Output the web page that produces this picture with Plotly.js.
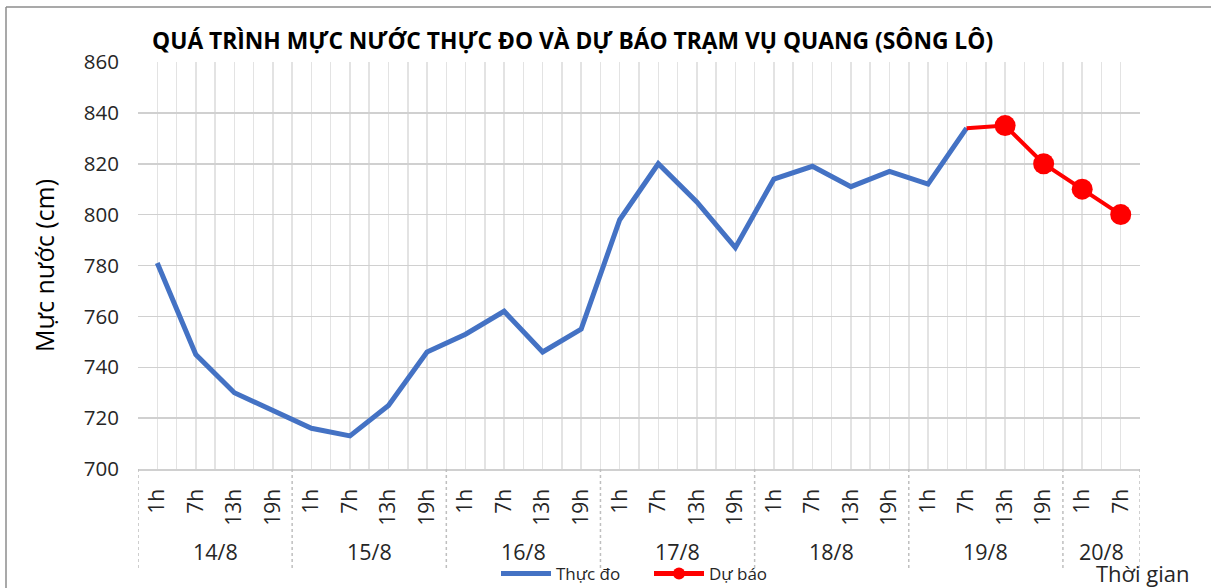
<!DOCTYPE html>
<html>
<head>
<meta charset="utf-8">
<script src="https://cdn.plot.ly/plotly-3.0.1.min.js"></script>
<style>html,body{margin:0;padding:0;background:#fff;}#chart{width:1211px;height:588px;}</style>
</head>
<body>
<div id="chart"></div>
<script>
// ---- data ----
const days = ['14/8','14/8','14/8','14/8','15/8','15/8','15/8','15/8','16/8','16/8','16/8','16/8',
              '17/8','17/8','17/8','17/8','18/8','18/8','18/8','18/8','19/8','19/8','19/8','19/8','20/8','20/8'];
const hours = ['1h','7h','13h','19h','1h','7h','13h','19h','1h','7h','13h','19h',
               '1h','7h','13h','19h','1h','7h','13h','19h','1h','7h','13h','19h','1h','7h'];
const observed = [781,745,730,723,716,713,725,746,753,762,746,755,
                  798,820,805,787,814,819,811,817,812,834,null,null,null,null];
const forecast = [null,null,null,null,null,null,null,null,null,null,null,null,
                  null,null,null,null,null,null,null,null,null,834,835,820,810,800];
const forecastMarkerShown = [false,false,false,false,false,false,false,false,false,false,false,false,
                  false,false,false,false,false,false,false,false,false,false,true,true,true,true];

const idx = hours.map((_, i) => i);
const FONT = 'Open Sans, Noto Sans, sans-serif';

// group boundaries and label positions
const groups = [];
days.forEach((d, i) => {
  if (!groups.length || groups[groups.length-1].label !== d) groups.push({label: d, start: i, end: i});
  else groups[groups.length-1].end = i;
});

const shapes = [];
const annotations = [];
const divBottom = -(570-469)/407;
groups.forEach((g, k) => {
  if (k === 0) shapes.push({type:'line', xref:'x', yref:'paper', x0:g.start-0.5, x1:g.start-0.5, y0:0, y1:divBottom,
    line:{color:'#bfbfbf', width:1.5, dash:'dot'}});
  shapes.push({type:'line', xref:'x', yref:'paper', x0:g.end+0.5, x1:g.end+0.5, y0:0, y1:divBottom,
    line:{color:'#bfbfbf', width:1.5, dash:'dot'}});
  annotations.push({xref:'x', yref:'paper', x:(g.start+g.end)/2, y:-(551-469)/407, text:g.label,
    showarrow:false, xanchor:'center', yanchor:'middle', font:{family:FONT, size:21.5, color:'#262626'}});
});

// outer frame (top and left edges)
shapes.push({type:'line', xref:'paper', yref:'paper', x0:(6-138)/1002, x1:(1211-138)/1002, y0:(469-7)/407, y1:(469-7)/407,
  line:{color:'#8c8c8c', width:1.5}});
shapes.push({type:'line', xref:'paper', yref:'paper', x0:(6-138)/1002, x1:(6-138)/1002, y0:(469-7)/407, y1:(469-588)/407,
  line:{color:'#8c8c8c', width:1.5}});

annotations.push({xref:'paper', yref:'paper', x:(150-138)/1002, y:(469-40)/407, xanchor:'left', yanchor:'middle',
  text:'<b>QUÁ TRÌNH MỰC NƯỚC THỰC ĐO VÀ DỰ BÁO TRẠM VỤ QUANG (SÔNG LÔ)</b>', showarrow:false,
  font:{family:FONT, size:22.8, color:'#000'}});
annotations.push({xref:'paper', yref:'paper', x:(1192-138)/1002, y:(469-573)/407, xanchor:'right', yanchor:'middle',
  text:'Thời gian', showarrow:false, font:{family:FONT, size:22, color:'#262626'}});

const traces = [
  {x: idx, y: observed, type:'scatter', mode:'lines', name:'Thực đo',
   line:{color:'#4472C4', width:5}},
  {x: idx, y: forecast, type:'scatter', mode:'lines+markers', name:'Dự báo',
   line:{color:'#FF0000', width:4},
   marker:{color:'#FF0000', opacity:1, line:{width:0}, size: forecastMarkerShown.map(s => s ? 21 : 0)}}
];

const halfTicks = [];
for (let i = 0; i <= hours.length; i++) halfTicks.push(i - 0.5);

const layout = {
  width:1211, height:588,
  margin:{l:138, r:71, t:62, b:119},
  paper_bgcolor:'#fff', plot_bgcolor:'#fff',
  showlegend:true,
  legend:{orientation:'h', xref:'container', yref:'container', x:496/1211, y:(588-574)/588, xanchor:'left', yanchor:'middle',
    font:{family:FONT, size:17, color:'#262626'}, bgcolor:'rgba(0,0,0,0)', entrywidth:88, entrywidthmode:'pixels',
    itemsizing:'constant', itemwidth:50},
  xaxis:{
    automargin:false,
    range:[-0.5, hours.length-0.5],
    tickmode:'array', tickvals:idx, ticktext:hours, tickangle:-90,
    tickfont:{family:FONT, size:21, color:'#262626'},
    ticks:'', ticklabelstandoff:10,
    showgrid:true, gridcolor:'#e3e3e3', gridwidth:1.5,
    minor:{tickmode:'array', tickvals:halfTicks, showgrid:true, gridcolor:'#e3e3e3', gridwidth:1.5, ticks:''},
    zeroline:false, showline:true, linecolor:'#d0d0d0', linewidth:1.5, mirror:false, fixedrange:true
  },
  yaxis:{
    automargin:false,
    range:[700,860], dtick:20, tick0:700,
    tickfont:{family:FONT, size:20.5, color:'#262626'},
    ticks:'', ticklabelstandoff:18,
    showgrid:true, gridcolor:'#d0d0d0', gridwidth:1.5,
    zeroline:false, showline:false,
    title:{text:'Mực nước (cm)', font:{family:FONT, size:25, color:'#000'}, standoff:22}
  },
  shapes: shapes,
  annotations: annotations
};

Plotly.newPlot('chart', traces, layout, {displayModeBar:false, staticPlot:true});
</script>
</body>
</html>
